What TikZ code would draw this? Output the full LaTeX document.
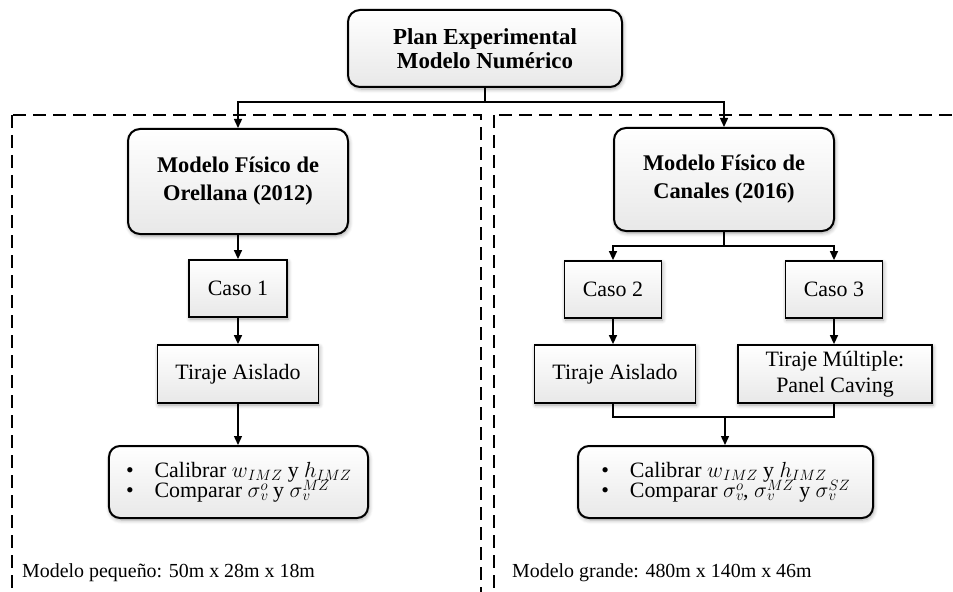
\RequirePackage{fix-cm}
\documentclass[tikz,border=0pt]{standalone}
\usepackage{fontspec}
\setmainfont{Liberation Serif}
\usetikzlibrary{arrows.meta,shadows.blur,calc}

\newcommand{\bulletfont}{\fontsize{22}{20}\selectfont\lineskiplimit=-30pt\relax}
% compact scripts so the two bullet lines can sit close together
\newcommand{\scr}[1]{{\fontsize{15}{15}\selectfont$#1$}}
\newcommand{\imz}[1]{$#1$\raisebox{-3.5bp}{\scr{IMZ}}}
\newcommand{\vsig}[1]{$\sigma$\rlap{\raisebox{-3.5bp}{\scr{v}}}\raisebox{6.5bp}{\scr{#1}}}

\tikzset{
  softshadow/.style={blur shadow={shadow xshift=1bp, shadow yshift=-2bp,
      shadow blur radius=4bp, shadow blur steps=6, shadow opacity=35}},
  roundbox/.style={draw, line width=2bp, rounded corners=12bp,
      top color=white, bottom color=black!9, softshadow,
      align=center, inner sep=0pt},
  rectbox/.style={draw, line width=1.8bp, top color=white, bottom color=black!9,
      softshadow, align=center, inner sep=0pt,
      font=\fontsize{22}{26}\selectfont},
  dashbox/.style={draw, line width=2.4bp, dash pattern=on 13bp off 7bp},
  conn/.style={line width=1.4bp},
  arr/.style={conn, -{Triangle[length=9bp,width=8bp]}},
  dimlabel/.style={anchor=base west, inner sep=0pt, font=\fontsize{20}{24}\selectfont}
}

\begin{document}
\begin{tikzpicture}[x=1bp, y=-1bp]
\useasboundingbox (0,0) rectangle (953,592);

% dashed frames of the two model groups
\draw[dashbox] (12,115) rectangle (481,593);
\draw[dashbox] (494,115) rectangle (965,593);

% root
\node[roundbox, minimum width=274bp, minimum height=77bp,
      font=\fontsize{23}{24}\selectfont\bfseries] (plan) at (485,48.5)
  {Plan Experimental\\Modelo Numérico};

% physical models
\node[roundbox, minimum width=220bp, minimum height=105bp,
      font=\fontsize{22.5}{28}\selectfont\bfseries] (orel) at (238,181.5)
  {Modelo Físico de\\Orellana (2012)};
\node[roundbox, minimum width=220bp, minimum height=103bp,
      font=\fontsize{22.5}{28}\selectfont\bfseries] (canal) at (724,179.5)
  {Modelo Físico de\\Canales (2016)};

% cases
\node[rectbox, minimum width=98bp, minimum height=57bp] (caso1) at (238,288.5) {Caso 1};
\node[rectbox, minimum width=97bp, minimum height=57bp] (caso2) at (613,289.5) {Caso 2};
\node[rectbox, minimum width=97bp, minimum height=57bp] (caso3) at (834,289.5) {Caso 3};

% draw types
\node[rectbox, minimum width=161bp, minimum height=58bp] (tir1) at (238,374) {Tiraje Aislado};
\node[rectbox, minimum width=161bp, minimum height=58bp] (tir2) at (615,374) {Tiraje Aislado};
\node[rectbox, minimum width=194bp, minimum height=58bp] (tir3) at (835,374)
  {\raisebox{-4bp}{Tiraje Múltiple:}\\\raisebox{-4bp}{Panel Caving}};

% results
\node[roundbox, rounded corners=11bp, minimum width=259bp, minimum height=72bp,
      align=left, font=\bulletfont] (res1) at (238.5,482)
  {\textbullet\hspace{21pt}Calibrar \imz{w} y \imz{h}\\
   \textbullet\hspace{21pt}Comparar \vsig{o} y \vsig{MZ}};
\node[roundbox, rounded corners=11bp, minimum width=295bp, minimum height=72bp,
      align=left, font=\bulletfont] (res2) at (725.5,482)
  {\textbullet\hspace{21pt}Calibrar \imz{w} y \imz{h}\\
   \textbullet\hspace{21pt}Comparar \vsig{o}, \vsig{MZ} y \vsig{SZ}};

% model sizes
\node[dimlabel] (lblA) at (22,577) {Modelo pequeño: 50m x 28m x 18m};
\node[dimlabel] (lblB) at (512,577) {Modelo grande: 480m x 140m x 46m};

% connectors
\coordinate (split0) at ($(plan.south)+(0,14)$);
\draw[conn] (plan.south) -- (split0);
\draw[arr] (split0) -| (orel.north);
\draw[arr] (split0) -| (canal.north);

\draw[arr] (orel.south) -- (caso1.north);
\draw[arr] (caso1.south) -- (caso1.south |- tir1.north);
\draw[arr] (tir1.south) -- (tir1.south |- res1.north);

\coordinate (split1) at ($(canal.south)+(0,14)$);
\draw[conn] (canal.south) -- (split1);
\draw[arr] (split1) -| (caso2.north);
\draw[arr] (split1) -| (caso3.north);
\draw[arr] (caso2.south) -- (caso2.south |- tir2.north);
\draw[arr] (caso3.south) -- (caso3.south |- tir3.north);

\coordinate (join) at (725,417);
\draw[conn] (caso2.south |- tir2.south) |- (join);
\draw[conn] (caso3.south |- tir3.south) |- (join);
\draw[arr] (join) -- (join |- res2.north);
\end{tikzpicture}
\end{document}
